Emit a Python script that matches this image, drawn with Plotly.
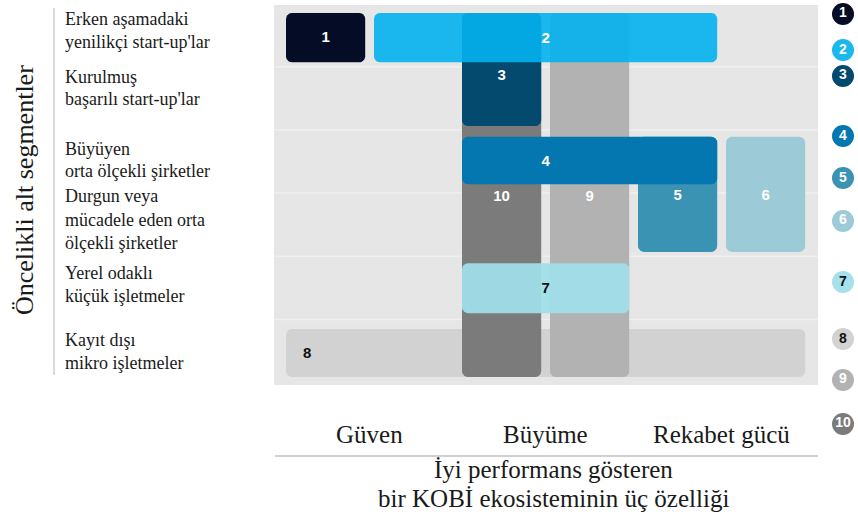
import numpy as np
import plotly.graph_objects as go

# ---------------- data ----------------
segment_lines = [
    ["Erken aşamadaki", "yenilikçi start-up'lar"],
    ["Kurulmuş", "başarılı start-up'lar"],
    ["Büyüyen", "orta ölçekli şirketler"],
    ["Durgun veya", "mücadele eden orta", "ölçekli şirketler"],
    ["Yerel odaklı", "küçük işletmeler"],
    ["Kayıt dışı", "mikro işletmeler"],
]
characteristics = ["Güven", "Büyüme", "Rekabet gücü"]
y_title = "Öncelikli alt segmentler"
x_title = ["İyi performans gösteren", "bir KOBİ ekosisteminin üç özelliği"]

# boxes (in drawing order): id, first/last sub-column, top/bottom in row units
box_ids = [8, 10, 9, 3, 2, 5, 4, 6, 7, 1]
box_col_start = [0, 2, 3, 2, 1, 4, 2, 5, 2, 0]
box_col_end = [5, 2, 3, 2, 4, 4, 4, 5, 3, 0]
box_row_top = [5.15, 0.15, 0.15, 0.15, 0.15, 2.11, 2.11, 2.11, 4.11, 0.15]
box_row_bottom = [5.91, 5.91, 5.91, 1.94, 0.93, 3.93, 2.86, 3.93, 4.90, 0.93]
box_label_x = [0.24, 2.45, 3.45, 2.45, 2.95, 4.45, 2.95, 5.45, 2.95, 0.45]
box_label_y = [5.55, 3.06, 3.06, 1.15, 0.57, 3.05, 2.51, 3.05, 4.52, 0.55]
box_opacity = [1, 1, 1, 1, 0.9, 1, 1, 1, 0.93, 1]

id_colors = {
    1: "#050d26", 2: "#03b3ef", 3: "#044a6e", 4: "#0476b0", 5: "#3b93b4",
    6: "#9dcad7", 7: "#a1e0ea", 8: "#d2d2d2", 9: "#b2b2b2", 10: "#7b7b7b",
}
legend_colors = dict(id_colors)
legend_colors[2] = "#19b8ee"
legend_colors[7] = "#a6e1eb"
id_text_colors = {i: ("#111111" if i in (7, 8) else "#ffffff") for i in id_colors}

legend_ids = [1, 2, 3, 4, 5, 6, 7, 8, 9, 10]
legend_rows = [0.166, 0.736, 1.147, 2.097, 2.761, 3.441, 4.407, 5.309, 5.957, 6.653]

# ---------------- geometry helpers ----------------
W, H = 858, 519
PX_U = 88.0      # pixels per sub-column unit
PX_R = 63.2      # pixels per row unit
X0_PX = 286.0
Y0_PX = 3.5
x_range = [(0 - X0_PX) / PX_U, (W - X0_PX) / PX_U]
y_range = [(H - Y0_PX) / PX_R, (0 - Y0_PX) / PX_R]
BOX_W = 0.9
RADIUS = 6.0


def rounded_rect(x0, x1, y0, y1, rpx=RADIUS, n=8):
    rx, ry = rpx / PX_U, rpx / PX_R
    xs, ys = [], []
    corners = [
        (x1 - rx, y0 + ry, -np.pi / 2, 0),
        (x1 - rx, y1 - ry, 0, np.pi / 2),
        (x0 + rx, y1 - ry, np.pi / 2, np.pi),
        (x0 + rx, y0 + ry, np.pi, 1.5 * np.pi),
    ]
    for cx, cy, a0, a1 in corners:
        t = np.linspace(a0, a1, n)
        xs += list(cx + rx * np.cos(t))
        ys += list(cy + ry * np.sin(t))
    xs.append(xs[0]); ys.append(ys[0])
    return xs, ys


def px(x):
    return x / W


def py(y):
    return 1 - y / H


fig = go.Figure()

# boxes
for i, bid in enumerate(box_ids):
    xs, ys = rounded_rect(box_col_start[i], box_col_end[i] + BOX_W,
                          box_row_top[i], box_row_bottom[i])
    fig.add_trace(go.Scatter(
        x=xs, y=ys, mode="lines", fill="toself",
        fillcolor=id_colors[bid], line=dict(width=0),
        opacity=box_opacity[i], hoverinfo="skip", showlegend=False))

# box labels
fig.add_trace(go.Scatter(
    x=box_label_x, y=box_label_y, mode="text",
    text=[f"<b>{b}</b>" for b in box_ids],
    textfont=dict(family="Liberation Sans, Arial", size=15,
                  color=[id_text_colors[b] for b in box_ids]),
    hoverinfo="skip", showlegend=False, cliponaxis=False))

# legend circles
fig.add_trace(go.Scatter(
    x=[(843 - X0_PX) / PX_U] * len(legend_ids), y=legend_rows,
    mode="markers+text",
    marker=dict(size=22, color=[legend_colors[i] for i in legend_ids], line=dict(width=0)),
    text=[f"<b>{i}</b>" for i in legend_ids],
    textposition="middle center",
    textfont=dict(family="Liberation Sans, Arial", size=14,
                  color=[id_text_colors[i] for i in legend_ids]),
    hoverinfo="skip", showlegend=False, cliponaxis=False))

shapes = []
shapes.append(dict(type="rect", xref="x", yref="y", layer="below",
                   x0=(274 - X0_PX) / PX_U, x1=(818 - X0_PX) / PX_U,
                   y0=(5 - Y0_PX) / PX_R, y1=(385 - Y0_PX) / PX_R,
                   fillcolor="#e6e6e6", line=dict(width=0)))
for r in range(1, len(segment_lines)):
    shapes.append(dict(type="line", xref="x", yref="y", layer="below",
                       x0=(274 - X0_PX) / PX_U, x1=(818 - X0_PX) / PX_U,
                       y0=r, y1=r, line=dict(color="#efefef", width=1.5)))
shapes.append(dict(type="line", xref="paper", yref="paper",
                   x0=px(54), x1=px(54), y0=py(8), y1=py(375),
                   line=dict(color="#cccccc", width=1.5)))
shapes.append(dict(type="line", xref="paper", yref="paper",
                   x0=px(275), x1=px(818), y0=py(456), y1=py(456),
                   line=dict(color="#d0d0d0", width=2)))

annotations = []
serif = "Liberation Serif, Times New Roman, serif"
label_line_y = [[19, 42], [77, 99], [149, 171], [196, 220, 243], [273, 296], [340, 363]]
for lines, ys in zip(segment_lines, label_line_y):
    for t, yy in zip(lines, ys):
        annotations.append(dict(text=t, xref="paper", yref="paper", x=px(63), y=py(yy),
                                xanchor="left", yanchor="middle", showarrow=False,
                                font=dict(family=serif, size=18, color="#1a1a1a")))
annotations.append(dict(text=y_title, xref="paper", yref="paper", x=px(24), y=py(190),
                        textangle=-90, xanchor="center", yanchor="middle", showarrow=False,
                        font=dict(family=serif, size=26, color="#1a1a1a")))
for k, c in enumerate(characteristics):
    annotations.append(dict(text=c, xref="x", yref="paper", x=2 * k + 0.95, y=py(434),
                            xanchor="center", yanchor="middle", showarrow=False,
                            font=dict(family=serif, size=25, color="#1a1a1a")))
for t, yy in zip(x_title, [469, 498]):
    annotations.append(dict(text=t, xref="paper", yref="paper", x=px(553), y=py(yy),
                            xanchor="center", yanchor="middle", showarrow=False,
                            font=dict(family=serif, size=25, color="#1a1a1a")))

fig.update_layout(
    width=W, height=H, margin=dict(l=0, r=0, t=0, b=0),
    paper_bgcolor="white", plot_bgcolor="white",
    xaxis=dict(range=x_range, visible=False, fixedrange=True),
    yaxis=dict(range=y_range, visible=False, fixedrange=True),
    shapes=shapes, annotations=annotations, showlegend=False,
)

fig.write_html(
    "out.html",
    config={"displayModeBar": False},
    post_script="document.body.style.margin='0px';"
                "document.documentElement.style.overflow='hidden';"
                "document.body.style.overflow='hidden';",
)
